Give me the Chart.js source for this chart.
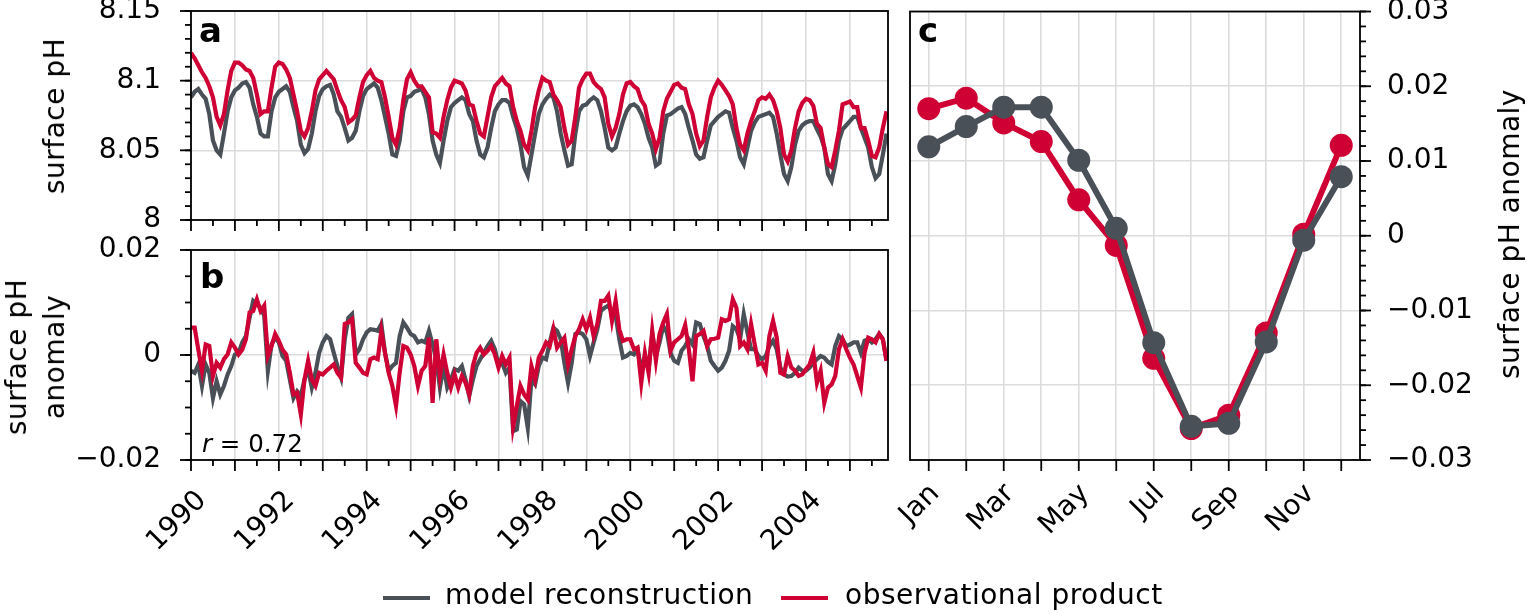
<!DOCTYPE html>
<html lang="en">
<head>
<meta charset="UTF-8">
<title>Surface pH</title>
<script src="https://cdn.jsdelivr.net/npm/chart.js@4.4.1/dist/chart.umd.min.js"></script>
<style>
    body { margin: 0; background: #fff; font-family: 'DejaVu Sans', sans-serif; color: #000; }
    .page { position: relative; width: 1527px; height: 614px; overflow: hidden; }
    canvas { position: absolute; left: 0; top: 0; }
    .txt { position: absolute; font-size: 28px; line-height: 1; white-space: nowrap; letter-spacing: 0.5px; }
    .rot { transform: translate(-50%, -50%) rotate(-90deg); text-align: center; }
    .letter { font-weight: bold; font-size: 34px; letter-spacing: 0; }
    .swatch { position: absolute; height: 4.3px; }
</style>
</head>
<body>
<div class="page">
    <canvas id="chartA" width="1527" height="614"></canvas>
    <canvas id="chartB" width="1527" height="614"></canvas>
    <canvas id="chartC" width="1527" height="614"></canvas>

    <!-- axis titles -->
    <div class="txt rot" style="left:55px; top:116px;">surface pH</div>
    <div class="txt rot" style="left:36px; top:357px; line-height:38px;">surface pH<br>anomaly</div>
    <div class="txt rot" style="left:1510px; top:234px;">surface pH anomaly</div>

    <!-- panel letters -->
    <div class="txt letter" style="left:199px; top:13px;">a</div>
    <div class="txt letter" style="left:200px; top:259px;">b</div>
    <div class="txt letter" style="left:918px; top:13px;">c</div>
    <div class="txt" style="left:202px; top:432px; font-size:24.5px; letter-spacing:0;"><i>r</i> = 0.72</div>

    <!-- legend -->
    <div class="swatch" style="left:383px; top:596px; width:47px; background:rgb(74,80,88);"></div>
    <div class="txt" style="left:445px; top:581px;">model reconstruction</div>
    <div class="swatch" style="left:781px; top:596px; width:47px; background:rgb(206,0,52);"></div>
    <div class="txt" style="left:845px; top:581px;">observational product</div>
</div>

<script>
    // ---- data ----
    const startYear = 1990;
    const yearLabels = ['1990', '1992', '1994', '1996', '1998', '2000', '2002', '2004'];
    const monthNames = ['Jan', 'Feb', 'Mar', 'Apr', 'May', 'Jun', 'Jul', 'Aug', 'Sep', 'Oct', 'Nov', 'Dec'];

    // panel a: surface pH, monthly, Jan 1990 - Nov 2005
    const obsPH = [
        8.120, 8.116, 8.111, 8.106, 8.102, 8.096, 8.088, 8.074, 8.068, 8.076, 8.093, 8.107,
        8.113, 8.113, 8.111, 8.108, 8.107, 8.102, 8.090, 8.076, 8.078, 8.078, 8.095, 8.110,
        8.113, 8.112, 8.108, 8.102, 8.090, 8.078, 8.064, 8.060, 8.066, 8.078, 8.093, 8.101,
        8.104, 8.107, 8.104, 8.101, 8.093, 8.086, 8.081, 8.070, 8.072, 8.075, 8.088, 8.099,
        8.104, 8.107, 8.102, 8.100, 8.099, 8.088, 8.074, 8.059, 8.054, 8.066, 8.086, 8.101,
        8.106, 8.100, 8.096, 8.096, 8.092, 8.088, 8.063, 8.062, 8.059, 8.074, 8.086, 8.095,
        8.100, 8.099, 8.098, 8.093, 8.083, 8.082, 8.071, 8.062, 8.060, 8.074, 8.088, 8.096,
        8.099, 8.102, 8.098, 8.096, 8.081, 8.071, 8.064, 8.054, 8.050, 8.064, 8.081, 8.093,
        8.102, 8.100, 8.099, 8.090, 8.086, 8.081, 8.066, 8.054, 8.057, 8.074, 8.095, 8.101,
        8.105, 8.105, 8.099, 8.096, 8.094, 8.088, 8.069, 8.060, 8.066, 8.076, 8.090, 8.098,
        8.099, 8.096, 8.094, 8.086, 8.082, 8.069, 8.062, 8.051, 8.059, 8.078, 8.087, 8.092,
        8.097, 8.098, 8.095, 8.094, 8.083, 8.076, 8.062, 8.053, 8.057, 8.074, 8.088, 8.095,
        8.100, 8.097, 8.093, 8.089, 8.083, 8.066, 8.054, 8.050, 8.062, 8.071, 8.078, 8.086,
        8.088, 8.087, 8.090, 8.086, 8.078, 8.066, 8.047, 8.042, 8.050, 8.066, 8.078, 8.084,
        8.087, 8.086, 8.082, 8.069, 8.066, 8.052, 8.040, 8.038, 8.050, 8.064, 8.083, 8.084,
        8.085, 8.081, 8.081, 8.066, 8.066, 8.057, 8.046, 8.045, 8.052, 8.066, 8.078
    ];
    const modelPH = [
        8.088, 8.092, 8.094, 8.090, 8.087, 8.076, 8.057, 8.050, 8.047, 8.062, 8.078, 8.088,
        8.093, 8.095, 8.098, 8.099, 8.095, 8.083, 8.074, 8.062, 8.060, 8.060, 8.078, 8.088,
        8.092, 8.094, 8.096, 8.092, 8.081, 8.071, 8.054, 8.048, 8.051, 8.062, 8.078, 8.089,
        8.094, 8.096, 8.097, 8.090, 8.078, 8.074, 8.066, 8.057, 8.059, 8.064, 8.078, 8.089,
        8.094, 8.096, 8.098, 8.095, 8.086, 8.074, 8.062, 8.047, 8.046, 8.057, 8.078, 8.088,
        8.089, 8.092, 8.093, 8.094, 8.088, 8.076, 8.057, 8.047, 8.041, 8.057, 8.071, 8.081,
        8.084, 8.086, 8.088, 8.086, 8.076, 8.071, 8.057, 8.047, 8.045, 8.052, 8.066, 8.078,
        8.083, 8.086, 8.086, 8.084, 8.074, 8.066, 8.054, 8.038, 8.032, 8.047, 8.062, 8.076,
        8.083, 8.087, 8.090, 8.088, 8.078, 8.062, 8.050, 8.039, 8.040, 8.062, 8.078, 8.082,
        8.083, 8.086, 8.088, 8.086, 8.078, 8.066, 8.052, 8.050, 8.052, 8.062, 8.071, 8.078,
        8.082, 8.083, 8.081, 8.076, 8.069, 8.059, 8.052, 8.039, 8.041, 8.062, 8.075, 8.076,
        8.078, 8.080, 8.081, 8.076, 8.066, 8.057, 8.047, 8.044, 8.045, 8.057, 8.068, 8.071,
        8.074, 8.076, 8.078, 8.077, 8.066, 8.057, 8.045, 8.040, 8.052, 8.064, 8.070, 8.074,
        8.075, 8.076, 8.077, 8.074, 8.062, 8.047, 8.033, 8.028, 8.038, 8.054, 8.064, 8.068,
        8.070, 8.071, 8.071, 8.065, 8.060, 8.052, 8.033, 8.028, 8.040, 8.057, 8.065, 8.068,
        8.071, 8.074, 8.074, 8.066, 8.059, 8.052, 8.038, 8.030, 8.033, 8.047, 8.062
    ];

    // panel b: surface pH anomaly, same months
    const obsAnom = [
        0.0052, 0.0052, 0.0010, -0.0030, 0.0020, 0.0017, -0.0040, -0.0015, -0.0024, -0.0008, 0.0001, 0.0024,
        0.0014, 0.0001, 0.0010, 0.0030, 0.0081, 0.0084, 0.0106, 0.0084, 0.0094, -0.0002, 0.0017, 0.0040,
        0.0027, 0.0010, 0.0001, -0.0034, -0.0075, -0.0072, -0.0113, -0.0047, -0.0011, -0.0047, -0.0059, -0.0034,
        -0.0037, -0.0030, -0.0024, -0.0018, -0.0034, -0.0043, 0.0059, 0.0062, 0.0068, -0.0015, -0.0024, -0.0034,
        -0.0037, -0.0008, -0.0005, -0.0008, 0.0046, 0.0004, -0.0034, -0.0059, -0.0097, -0.0034, 0.0017, 0.0014,
        0.0001, -0.0021, -0.0059, -0.0030, -0.0021, 0.0033, -0.0091, 0.0030, -0.0040, 0.0001, -0.0034, -0.0062,
        -0.0037, -0.0062, -0.0040, -0.0053, -0.0075, -0.0021, 0.0004, 0.0014, 0.0001, 0.0008, 0.0017, 0.0001,
        -0.0024, -0.0002, -0.0018, -0.0005, -0.0136, -0.0097, -0.0059, -0.0075, -0.0085, -0.0021, -0.0047, -0.0005,
        0.0008, 0.0024, 0.0017, 0.0049, 0.0014, 0.0024, 0.0033, -0.0018, 0.0011, 0.0036, 0.0049, 0.0068,
        0.0049, 0.0071, 0.0036, 0.0059, 0.0103, 0.0103, 0.0113, 0.0065, 0.0103, 0.0049, 0.0027, 0.0030,
        0.0030, 0.0011, 0.0014, -0.0053, 0.0004, -0.0034, 0.0046, -0.0011, 0.0040, 0.0062, 0.0078, 0.0008,
        0.0024, 0.0030, 0.0036, 0.0057, 0.0011, -0.0050, 0.0036, 0.0040, 0.0046, 0.0017, 0.0030, 0.0031,
        0.0033, 0.0068, 0.0065, 0.0068, 0.0106, 0.0090, 0.0017, 0.0024, 0.0011, 0.0059, 0.0020, -0.0018,
        -0.0015, -0.0030, 0.0036, 0.0065, 0.0033, -0.0034, -0.0037, -0.0002, -0.0024, -0.0030, -0.0040, -0.0037,
        -0.0027, -0.0018, 0.0004, -0.0053, -0.0030, -0.0091, -0.0062, -0.0056, -0.0040, 0.0011, 0.0030, 0.0011,
        -0.0005, -0.0018, -0.0040, -0.0062, 0.0004, 0.0033, 0.0030, 0.0024, 0.0040, 0.0030, -0.0011
    ];
    const modelAnom = [
        -0.0030, -0.0034, -0.0018, -0.0059, -0.0018, -0.0034, -0.0082, -0.0050, -0.0075, -0.0059, -0.0037, -0.0021,
        0.0001, 0.0004, 0.0024, 0.0036, 0.0071, 0.0103, 0.0097, 0.0090, 0.0075, -0.0030, 0.0020, 0.0033,
        0.0024, -0.0002, -0.0011, -0.0047, -0.0082, -0.0069, -0.0078, -0.0047, -0.0027, -0.0062, -0.0034, 0.0004,
        0.0024, 0.0036, 0.0030, 0.0004, -0.0021, -0.0043, 0.0030, 0.0071, 0.0078, 0.0001, 0.0011, 0.0030,
        0.0043, 0.0049, 0.0048, 0.0046, 0.0059, 0.0004, -0.0030, -0.0021, -0.0015, 0.0036, 0.0062, 0.0052,
        0.0040, 0.0036, 0.0024, 0.0027, 0.0024, 0.0046, 0.0020, -0.0008, -0.0062, -0.0021, -0.0062, -0.0047,
        -0.0027, -0.0030, -0.0021, -0.0047, -0.0078, -0.0047, -0.0021, -0.0008, 0.0004, 0.0017, 0.0027, 0.0011,
        -0.0018, -0.0015, -0.0034, -0.0024, -0.0145, -0.0142, -0.0088, -0.0094, -0.0139, -0.0047, -0.0056, -0.0021,
        -0.0005, -0.0008, 0.0024, 0.0052, 0.0046, 0.0030, -0.0015, -0.0053, -0.0015, 0.0040, 0.0043, 0.0040,
        0.0030, -0.0002, 0.0024, 0.0049, 0.0084, 0.0090, 0.0094, 0.0081, 0.0075, 0.0030, -0.0005, -0.0002,
        0.0004, 0.0001, 0.0011, -0.0027, -0.0002, -0.0027, 0.0040, -0.0002, 0.0024, 0.0055, 0.0043, 0.0004,
        -0.0011, -0.0015, 0.0008, 0.0017, 0.0030, 0.0020, 0.0062, 0.0059, 0.0036, 0.0017, -0.0011, -0.0021,
        -0.0030, -0.0024, -0.0011, 0.0008, 0.0055, 0.0049, 0.0030, 0.0078, 0.0043, 0.0011, 0.0011, -0.0002,
        -0.0008, -0.0002, 0.0017, 0.0027, 0.0011, -0.0024, -0.0037, -0.0041, -0.0040, -0.0034, -0.0024, -0.0030,
        -0.0030, -0.0024, -0.0015, -0.0008, -0.0002, -0.0005, -0.0013, -0.0018, 0.0017, 0.0036, 0.0030, 0.0017,
        0.0020, 0.0024, 0.0024, 0.0004, 0.0027, 0.0030, 0.0024, 0.0030, 0.0040, 0.0030, -0.0011
    ];

    // panel c: mean seasonal cycle
    const obsClim = [0.0170, 0.0184, 0.0151, 0.0126, 0.0048, -0.0013, -0.0164, -0.0258, -0.0240, -0.0130, 0.0002, 0.0121];
    const modelClim = [0.0119, 0.0146, 0.0172, 0.0172, 0.0101, 0.0010, -0.0143, -0.0255, -0.0251, -0.0142, -0.0006, 0.0079];

    // ---- styling ----
    const RED = 'rgb(206,0,52)';
    const GREY = 'rgb(74,80,88)';
    const GRID = '#dcdcdc';
    const font = { family: 'DejaVu Sans', size: 28 };
    const xMax = 2005.867;

    const monthTimes = obsPH.map((v, i) => startYear + i / 12);
    const pts = arr => arr.map((v, i) => ({ x: monthTimes[i], y: v }));

    function steps(a, b, s) {
        const out = [];
        for (let v = a; v <= b + 1e-9; v += s) out.push(Math.round(v * 1e6) / 1e6);
        return out;
    }
    function fmt(v) {
        return String(+Number(v).toFixed(3)).replace('-', '\u2212');
    }

    // box frame, matplotlib style outward ticks and 45 degree x labels
    const frameTicks = {
        id: 'frameTicks',
        afterDatasetsDraw(chart, args, opts) {
            const ctx = chart.ctx, a = chart.chartArea;
            ctx.save();
            ctx.strokeStyle = '#000';
            ctx.lineWidth = 1.8;
            (opts.marks || []).forEach(m => {
                const sc = chart.scales[m.scale];
                m.values.forEach(v => {
                    const p = sc.getPixelForValue(v);
                    ctx.beginPath();
                    if (m.side === 'bottom') { ctx.moveTo(p, a.bottom); ctx.lineTo(p, a.bottom + m.len); }
                    if (m.side === 'left') { ctx.moveTo(a.left, p); ctx.lineTo(a.left - m.len, p); }
                    if (m.side === 'right') { ctx.moveTo(a.right, p); ctx.lineTo(a.right + m.len, p); }
                    ctx.stroke();
                });
            });
            ctx.strokeRect(a.left, a.top, a.right - a.left, a.bottom - a.top);

            const lab = opts.labels;
            if (lab) {
                const sc = chart.scales[lab.scale];
                ctx.font = '28px "DejaVu Sans"';
                ctx.fillStyle = '#000';
                ctx.textAlign = 'right';
                ctx.textBaseline = 'alphabetic';
                lab.values.forEach((v, i) => {
                    const p = sc.getPixelForValue(v);
                    ctx.save();
                    ctx.translate(p + lab.dx, a.bottom + lab.dy);
                    ctx.rotate(-Math.PI / 4);
                    ctx.fillText(lab.texts[i], 0, 20.4);
                    ctx.restore();
                });
            }
            ctx.restore();
        }
    };

    const base = {
        responsive: false,
        animation: false,
        devicePixelRatio: 1,
        events: []
    };
    const noPad = s => { s.paddingTop = 0; s.paddingBottom = 0; s.paddingLeft = 0; s.paddingRight = 0; };

    /* panel a */
    new Chart(document.getElementById('chartA'), {
        type: 'line',
        data: {
            datasets: [
                { label: 'observational product', data: pts(obsPH), borderColor: RED, borderWidth: 4.2, pointRadius: 0, order: 1 },
                { label: 'model reconstruction', data: pts(modelPH), borderColor: GREY, borderWidth: 4.2, pointRadius: 0, order: 2 }
            ]
        },
        plugins: [frameTicks],
        options: {
            ...base,
            layout: { padding: { left: 71, top: 11, right: 639, bottom: 394 } },
            plugins: {
                legend: { display: false },
                tooltip: { enabled: false },
                frameTicks: {
                    marks: [
                        { scale: 'x', side: 'bottom', len: 11, values: steps(1990, 2005, 1) },
                        { scale: 'x', side: 'bottom', len: 6, values: steps(1990.5, 2005.5, 1) },
                        { scale: 'y', side: 'left', len: 11, values: steps(8, 8.15, 0.05) },
                        { scale: 'y', side: 'left', len: 6, values: steps(8, 8.15, 0.01) }
                    ]
                }
            },
            scales: {
                x: {
                    type: 'linear', min: startYear, max: xMax,
                    ticks: { display: false, stepSize: 1, includeBounds: false },
                    grid: { color: GRID, lineWidth: 1.6, drawTicks: false },
                    border: { display: false },
                    afterFit: s => { s.height = 0; noPad(s); }
                },
                y: {
                    min: 8, max: 8.15,
                    ticks: { stepSize: 0.05, font: font, color: '#000', padding: 30, callback: fmt },
                    grid: { color: GRID, lineWidth: 1.6, drawTicks: false },
                    border: { display: false },
                    afterFit: s => { s.width = 120; noPad(s); }
                }
            }
        }
    });

    /* panel b */
    new Chart(document.getElementById('chartB'), {
        type: 'line',
        data: {
            datasets: [
                { label: 'observational product', data: pts(obsAnom), borderColor: RED, borderWidth: 4.2, pointRadius: 0, order: 1 },
                { label: 'model reconstruction', data: pts(modelAnom), borderColor: GREY, borderWidth: 4.2, pointRadius: 0, order: 2 }
            ]
        },
        plugins: [frameTicks],
        options: {
            ...base,
            layout: { padding: { left: 71, top: 250, right: 639, bottom: 54 } },
            plugins: {
                legend: { display: false },
                tooltip: { enabled: false },
                frameTicks: {
                    marks: [
                        { scale: 'x', side: 'bottom', len: 11, values: steps(1990, 2005, 1) },
                        { scale: 'x', side: 'bottom', len: 6, values: steps(1990.5, 2005.5, 1) },
                        { scale: 'y', side: 'left', len: 11, values: steps(-0.02, 0.02, 0.02) },
                        { scale: 'y', side: 'left', len: 6, values: steps(-0.02, 0.02, 0.005) }
                    ],
                    labels: { scale: 'x', values: yearLabels.map(Number), texts: yearLabels, dx: 2, dy: 27 }
                }
            },
            scales: {
                x: {
                    type: 'linear', min: startYear, max: xMax,
                    ticks: { display: false, stepSize: 1, includeBounds: false },
                    grid: { color: GRID, lineWidth: 1.6, drawTicks: false },
                    border: { display: false },
                    afterFit: s => { s.height = 100; noPad(s); }
                },
                y: {
                    min: -0.02, max: 0.02,
                    ticks: { stepSize: 0.02, font: font, color: '#000', padding: 30, callback: fmt },
                    grid: { color: GRID, lineWidth: 1.6, drawTicks: false },
                    border: { display: false },
                    afterFit: s => { s.width = 120; noPad(s); }
                }
            }
        }
    });

    /* panel c */
    const cLabelIdx = [0, 2, 4, 6, 8, 10];
    new Chart(document.getElementById('chartC'), {
        type: 'line',
        data: {
            labels: monthNames,
            datasets: [
                { label: 'observational product', data: obsClim, borderColor: RED, backgroundColor: RED, borderWidth: 6, pointRadius: 11.5, pointBorderWidth: 0, order: 2 },
                { label: 'model reconstruction', data: modelClim, borderColor: GREY, backgroundColor: GREY, borderWidth: 6, pointRadius: 11.5, pointBorderWidth: 0, order: 1 }
            ]
        },
        plugins: [frameTicks],
        options: {
            ...base,
            layout: { padding: { left: 910, top: 11, right: 47, bottom: 54 } },
            plugins: {
                legend: { display: false },
                tooltip: { enabled: false },
                frameTicks: {
                    marks: [
                        { scale: 'x', side: 'bottom', len: 11, values: monthNames.map((m, i) => i) },
                        { scale: 'y', side: 'right', len: 11, values: steps(-0.03, 0.03, 0.01) },
                        { scale: 'y', side: 'right', len: 6, values: steps(-0.03, 0.03, 0.002) }
                    ],
                    labels: { scale: 'x', values: cLabelIdx, texts: cLabelIdx.map(i => monthNames[i]), dx: -3, dy: 20 }
                }
            },
            scales: {
                x: {
                    type: 'category', offset: true,
                    ticks: { display: false, autoSkip: false },
                    grid: { offset: false, color: GRID, lineWidth: 1.6, drawTicks: false },
                    border: { display: false },
                    afterFit: s => { s.height = 100; noPad(s); }
                },
                y: {
                    position: 'right', min: -0.03, max: 0.03,
                    ticks: { stepSize: 0.01, font: font, color: '#000', padding: 27, callback: fmt },
                    grid: { color: GRID, lineWidth: 1.6, drawTicks: false },
                    border: { display: false },
                    afterFit: s => { s.width = 120; noPad(s); }
                }
            }
        }
    });
</script>
</body>
</html>
